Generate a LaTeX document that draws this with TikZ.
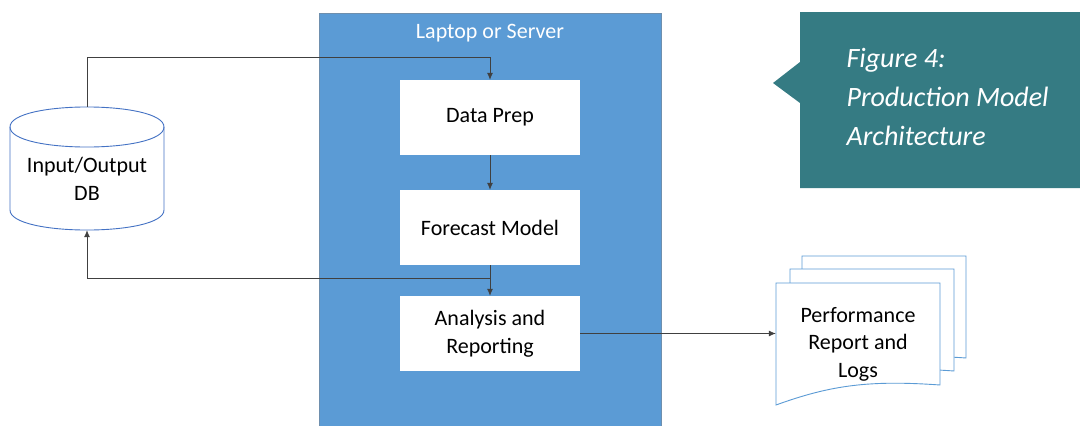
\documentclass[tikz,border=0pt]{standalone}
\usepackage{fontspec}
\setmainfont{Carlito}
\usetikzlibrary{arrows.meta,calc,positioning}
\definecolor{hostblue}{HTML}{5B9BD5}
\definecolor{hostedge}{HTML}{6E8FAE}
\definecolor{dbedge}{HTML}{4472C4}
\definecolor{calloutteal}{HTML}{357B83}
\definecolor{wire}{HTML}{404040}
\newcommand{\boxfont}{\fontsize{22}{27.5}\selectfont}
% one sheet of the report stack: top-left corner #1,#2
\newcommand{\docsheet}[2]{
	\filldraw[fill=white, draw=hostblue, line width=0.9pt]
		(#1,#2) -- ++(164,0) -- ++(0,102)
		.. controls +(-70,-5) and +(55,-20) .. ++(-164,20) -- cycle;
}

\begin{document}
\begin{tikzpicture}[x=1pt,y=-1pt,
	procbox/.style={fill=white, minimum width=180pt, minimum height=75pt,
		align=center, font=\boxfont},
	flow/.style={draw=wire, line width=0.8pt, -{Latex[length=7pt,width=6pt]}},
	outline/.style={minimum width=#1, inner sep=0pt}]
	\useasboundingbox (0,0) rectangle (1080,426);

	% host machine
	\filldraw[fill=hostblue, draw=hostedge, line width=1pt] (319,13) rectangle (661,430);
	\node[text=white, font=\boxfont] (host) at (490,33) {Laptop or Server};

	\node[procbox] (prep) at (490,117.5) {Data Prep};
	\node[procbox] (fcst) at (490,227.5) {Forecast Model};
	\node[procbox] (anls) at (490,333.5) {Analysis and\\Reporting};

	% database cylinder
	\filldraw[fill=white, draw=dbedge, line width=0.9pt]
		(10,127) -- (10,210) .. controls (10,236.7) and (164,236.7) .. (164,210)
		-- (164,127) .. controls (164,100.3) and (10,100.3) .. (10,127) -- cycle;
	\draw[dbedge, line width=0.9pt] (10,127) .. controls (10,153.7) and (164,153.7) .. (164,127);
	\node[outline=154pt, minimum height=123pt] (db) at (87,168.5) {};
	\node[align=center, font=\boxfont] (dblabel) at (87,179) {Input/Output\\DB};

	% report stack
	\docsheet{802}{256}
	\docsheet{790}{269}
	\docsheet{776}{283}
	\node[outline=164pt, minimum height=102pt] (rep) at (858,334) {};
	\node[align=center, font=\boxfont] (replabel) at (858,344) {Performance\\Report and\\Logs};

	% caption callout
	\fill[calloutteal] (1080,12) -- (800,12) -- (800,62) -- (773,83) -- (800,103)
		-- (800,188) -- (1080,188) -- cycle;
	\node[anchor=west, align=left, text=white, font=\fontsize{28}{39}\selectfont\itshape]
		(caption) at (843,97) {Figure 4:\\Production Model\\Architecture};

	% connectors
	\coordinate (inbend) at (490,57);
	\coordinate (outsplit) at (490,278);
	\draw[flow] (db.north) |- (inbend) -- (prep.north);
	\draw[flow] (prep.south) -- (fcst.north);
	\draw[flow] (fcst.south) -- (anls.north);
	\draw[flow] (outsplit) -| (db.south);
	\draw[flow] (anls.east) -- (anls.east -| rep.west);
\end{tikzpicture}
\end{document}
